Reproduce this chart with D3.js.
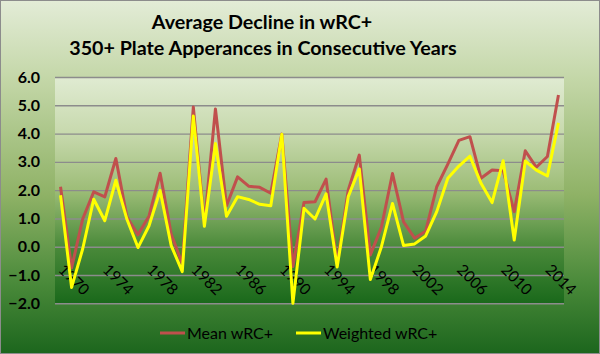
<!DOCTYPE html>
<html lang="en">
<head>
    <meta charset="utf-8">
    <title>Average Decline in wRC+</title>
    <script src="https://d3js.org/d3.v7.min.js"></script>
    <style>
        body { margin: 0; }
        text { font-family: Lato, "Open Sans", sans-serif; fill: #000; }
    </style>
</head>
<body>
<div id="chart"></div>
<script>
    // Data
    const years = [1970, 1971, 1972, 1973, 1974, 1975, 1976, 1977, 1978, 1979,
        1980, 1981, 1982, 1983, 1984, 1985, 1986, 1987, 1988, 1989,
        1990, 1991, 1992, 1993, 1994, 1995, 1996, 1997, 1998, 1999,
        2000, 2001, 2002, 2003, 2004, 2005, 2006, 2007, 2008, 2009,
        2010, 2011, 2012, 2013, 2014, 2015];
    const meanWrc = [2.12, -0.75, 0.98, 1.94, 1.76, 3.12, 1.05, 0.42, 1.09, 2.6,
        0.45, -0.6, 4.94, 0.8, 4.87, 1.45, 2.47, 2.14, 2.1, 1.89,
        3.98, -0.7, 1.56, 1.59, 2.39, -0.6, 2.0, 3.24, -0.29, 0.69,
        2.59, 0.88, 0.3, 0.55, 2.12, 2.92, 3.76, 3.89, 2.42, 2.71,
        2.69, 1.24, 3.39, 2.81, 3.19, 5.36];
    const weightedWrc = [1.82, -1.44, -0.08, 1.68, 0.92, 2.35, 0.97, -0.03, 0.74, 1.99,
        0.04, -0.88, 4.62, 0.72, 3.65, 1.08, 1.77, 1.67, 1.5, 1.45,
        3.98, -2.0, 1.36, 0.98, 1.87, -0.72, 1.77, 2.75, -1.16, 0.0,
        1.53, 0.04, 0.1, 0.38, 1.24, 2.42, 2.85, 3.2, 2.24, 1.56,
        3.04, 0.24, 3.03, 2.71, 2.5, 4.38];
    const yTicks = [-2, -1, 0, 1, 2, 3, 4, 5, 6];
    const xTickYears = [1970, 1974, 1978, 1982, 1986, 1990, 1994, 1998, 2002, 2006, 2010, 2014];
    const seriesNames = ["Mean wRC+", "Weighted wRC+"];
    const seriesColors = ["#c0504d", "#ffff00"];

    const W = 600, H = 354;
    const plot = {left: 55, right: 564, top: 77, bottom: 303.3};

    const svg = d3.select("#chart")
        .append("svg")
        .attr("width", W)
        .attr("height", H);

    // Gradients
    const defs = svg.append("defs");
    const outerGrad = defs.append("linearGradient")
        .attr("id", "outerGrad")
        .attr("x1", 0).attr("y1", 0).attr("x2", 0).attr("y2", 1);
    outerGrad.append("stop").attr("offset", "0%").attr("stop-color", "#e3ecd7");
    outerGrad.append("stop").attr("offset", "22%").attr("stop-color", "#c4d7a8");
    outerGrad.append("stop").attr("offset", "55%").attr("stop-color", "#8fb266");
    outerGrad.append("stop").attr("offset", "80%").attr("stop-color", "#4a8a3a");
    outerGrad.append("stop").attr("offset", "100%").attr("stop-color", "#1c661d");

    const plotGrad = defs.append("linearGradient")
        .attr("id", "plotGrad")
        .attr("x1", 0).attr("y1", 0).attr("x2", 0).attr("y2", 1);
    plotGrad.append("stop").attr("offset", "0%").attr("stop-color", "#e0ebd2");
    plotGrad.append("stop").attr("offset", "25%").attr("stop-color", "#c7d9ad");
    plotGrad.append("stop").attr("offset", "50%").attr("stop-color", "#9dbd77");
    plotGrad.append("stop").attr("offset", "75%").attr("stop-color", "#4a8a3a");
    plotGrad.append("stop").attr("offset", "100%").attr("stop-color", "#1a691b");

    svg.append("rect")
        .attr("x", 0.5).attr("y", 0.5)
        .attr("width", W - 1).attr("height", H - 1)
        .attr("fill", "url(#outerGrad)")
        .attr("stroke", "#8c8c8c");

    svg.append("rect")
        .attr("x", plot.left).attr("y", plot.top)
        .attr("width", plot.right - plot.left)
        .attr("height", plot.bottom - plot.top)
        .attr("fill", "url(#plotGrad)");

    // Scales
    const x = d3.scaleBand()
        .domain(years)
        .range([plot.left, plot.right]);
    const cx = d => x(d) + x.bandwidth() / 2;

    const y = d3.scaleLinear()
        .domain([-2, 6])
        .range([plot.bottom, plot.top]);

    // Gridlines
    svg.append("g")
        .attr("transform", `translate(${plot.left},0)`)
        .call(d3.axisLeft(y).tickValues(yTicks).tickSize(-(plot.right - plot.left)).tickFormat(""))
        .call(g => g.select(".domain").remove())
        .call(g => g.selectAll("line").attr("stroke", "#8c8c8c").attr("stroke-width", 1.4));

    // Y axis labels
    svg.append("g")
        .attr("transform", `translate(${plot.left},0)`)
        .call(d3.axisLeft(y).tickValues(yTicks).tickSize(0).tickPadding(15).tickFormat(d3.format(".1f")))
        .call(g => g.select(".domain").remove())
        .call(g => g.selectAll("text")
            .style("font-size", "16px")
            .style("font-weight", "bold")
            .attr("fill", "#000"));

    // X axis labels, crossing at 0
    svg.append("g")
        .attr("transform", `translate(0,${y(0)})`)
        .call(d3.axisBottom(x).tickValues(xTickYears).tickSize(0))
        .call(g => g.select(".domain").remove())
        .call(g => g.selectAll("text")
            .attr("text-anchor", "start")
            .attr("x", 0).attr("y", 0).attr("dy", 0)
            .attr("transform", "translate(-3,24) rotate(45)")
            .style("font-size", "15.5px")
            .attr("fill", "#000"));

    // Lines
    const line = d3.line()
        .x((d, i) => cx(years[i]))
        .y(d => y(d));

    [meanWrc, weightedWrc].forEach((series, k) => {
        svg.append("path")
            .datum(series)
            .attr("fill", "none")
            .attr("stroke", seriesColors[k])
            .attr("stroke-width", 3)
            .attr("stroke-linejoin", "round")
            .attr("d", line);
    });

    // Title
    const title = svg.append("text")
        .attr("text-anchor", "middle")
        .style("font-size", "19.7px")
        .style("font-weight", "bold");
    title.append("tspan").attr("x", 262).attr("y", 29).text("Average Decline in wRC+");
    title.append("tspan").attr("x", 263).attr("y", 55).text("350+ Plate Apperances in Consecutive Years");

    // Legend
    const legendX = [160, 296];
    const legend = svg.append("g");
    seriesNames.forEach((name, k) => {
        legend.append("line")
            .attr("x1", legendX[k]).attr("x2", legendX[k] + 25)
            .attr("y1", 333).attr("y2", 333)
            .attr("stroke", seriesColors[k])
            .attr("stroke-width", 3);
        legend.append("text")
            .attr("x", legendX[k] + 27)
            .attr("y", 338.5)
            .style("font-size", "16px")
            .text(name);
    });
</script>
</body>
</html>
